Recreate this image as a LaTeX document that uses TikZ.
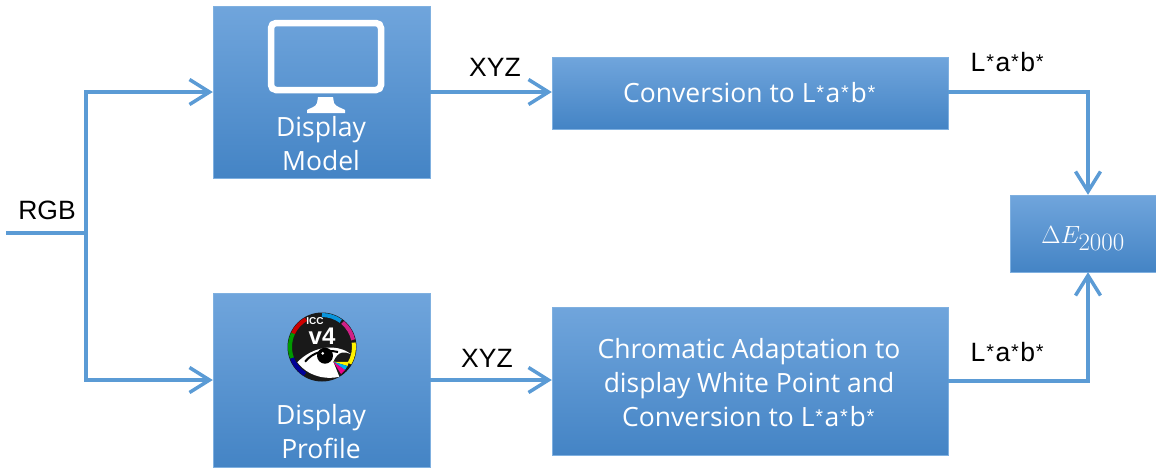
\documentclass[tikz,border=0pt]{standalone}
\usepackage{fontspec}
\usepackage{graphicx}
\setmainfont{Open Sans}
\newfontfamily\signalfont{Liberation Sans}
\usetikzlibrary{arrows.meta}
\definecolor{boxtop}{HTML}{70A5DC}
\definecolor{boxmid}{HTML}{5195D7}
\definecolor{boxbot}{HTML}{4484C5}
\definecolor{boxedge}{HTML}{7FB0E0}
\definecolor{wirecol}{HTML}{5B9BD5}
\newcommand{\labstar}{\kern.03em\raisebox{.12em}{\scalebox{.75}{\signalfont *}}\kern.06em}
\tikzset{
  blockbox/.style={draw=boxedge,top color=boxtop,middle color=boxmid,bottom color=boxbot,inner sep=0pt,text=white,align=center,font=\fontsize{26.5}{34}\selectfont},
  blocktext/.style={text=white,align=center,inner sep=0pt,font=\fontsize{26.5}{34}\selectfont},
  signaltext/.style={text=black,inner sep=0pt,font=\signalfont\fontsize{26.5}{30}\selectfont},
  wire/.style={draw=wirecol,line width=3.5pt,-{Straight Barb[length=20pt,width=25pt,line width=3.5pt]}},
  plainwire/.style={draw=wirecol,line width=3.5pt}
}
\begin{document}
\begin{tikzpicture}[x=1pt,y=-1pt]
\useasboundingbox (0,0) rectangle (1156,467);
\clip (0,0) rectangle (1156,467);

\node[blockbox,minimum width=217pt,minimum height=172pt] (model) at (321.5,92) {};
\node[blockbox,minimum width=217pt,minimum height=174pt] (profile) at (321.5,380) {};
\node[blockbox,minimum width=396pt,minimum height=72pt] (conv) at (750,93) {Conversion to L\labstar a\labstar b\labstar};
\node[blockbox,minimum width=396pt,minimum height=148pt] (chroma) at (750,381) {};
\node[blockbox,minimum width=146pt,minimum height=77pt,font=\fontsize{23}{28}\selectfont] (delta) at (1083,233.5) {\raisebox{-9.5pt}[0pt][0pt]{$\Delta E_{\textstyle 2000}$}};

\node[blocktext] (modeltext) at (321,144) {Display\\Model};
\node[blocktext] (profiletext) at (321,432) {Display\\Profile};
\node[blocktext] (chromatext) at (749,383) {Chromatic Adaptation to\\display White Point and\\Conversion to L\labstar a\labstar b\labstar};

% monitor
\draw[white,line width=6.5pt,rounded corners=5pt] (271,23) rectangle (381,90);
\fill[white] (318,97) -- (333,97) -- (334,103) .. controls (336,107) and (342,108) .. (345,110) -- (345,113) -- (307,113) -- (307,110) .. controls (310,108) and (316,107) .. (317,103) -- cycle;

% icc logo
\fill[black!90] (322,347) circle (34.5);
\foreach \ringcol/\ringa/\ringb in {red!80!black/-155/-120,cyan!80!blue/-90/-54,magenta!85!black/-50/-13,yellow/-8/31,blue!60!black/122/160,green!60!black/160/205}
  \draw[\ringcol,line width=4pt] (322,347) ++(\ringa:32) arc[start angle=\ringa,end angle=\ringb,radius=32];
\fill[white] (297.3,362.3) .. controls (313.3,345.7) and (336.7,343.3) .. (350.7,354) .. controls (345,351.7) and (338.3,350) .. (333.3,361.7) -- (339.3,376.7) .. controls (326.7,380) and (308.3,376.7) .. (297.3,362.3) -- cycle;
\draw[black,line width=2pt] (305,361.7) .. controls (313,352) and (325,349) .. (338,352);
\fill[black] (325,355.7) circle (8);
\fill[white] (322.7,353.3) circle (1.5);
\fill[yellow] (333.3,361.7) -- (349,362) -- (347.5,366) -- cycle;
\fill[cyan] (333.3,361.7) -- (347.5,366) -- (345,370) -- cycle;
\fill[magenta] (333.3,361.7) -- (345,370) -- (341,374) -- cycle;
\node[text=white,inner sep=0pt,font=\signalfont\bfseries\fontsize{10}{10}\selectfont] (icc) at (315,321) {ICC};
\node[text=white,inner sep=0pt,font=\signalfont\bfseries\fontsize{24}{24}\selectfont] (vfour) at (322,336) {v4};

\coordinate (input) at (6,233);
\coordinate (branch) at (86,233);
\coordinate (cornerup) at (1088,92);
\coordinate (cornerlow) at (1088,381);

\draw[plainwire] (input) -- (branch);
\draw[wire] (branch) |- (model.west);
\draw[wire] (branch) |- (profile.west);
\draw[wire] (model.east) -- (conv.west |- model.east);
\draw[wire] (profile.east) -- (chroma.west |- profile.east);
\draw[wire] (conv.east |- cornerup) -- (cornerup) -- (cornerup |- delta.north);
\draw[wire] (chroma.east |- cornerlow) -- (cornerlow) -- (cornerlow |- delta.south);

\node[signaltext] (rgb) at (47,210) {RGB};
\node[signaltext] (xyzup) at (495,67) {XYZ};
\node[signaltext] (xyzlow) at (487,358) {XYZ};
\node[signaltext] (labup) at (1008,62) {L\labstar a\labstar b\labstar};
\node[signaltext] (lablow) at (1008,352) {L\labstar a\labstar b\labstar};
\end{tikzpicture}
\end{document}
